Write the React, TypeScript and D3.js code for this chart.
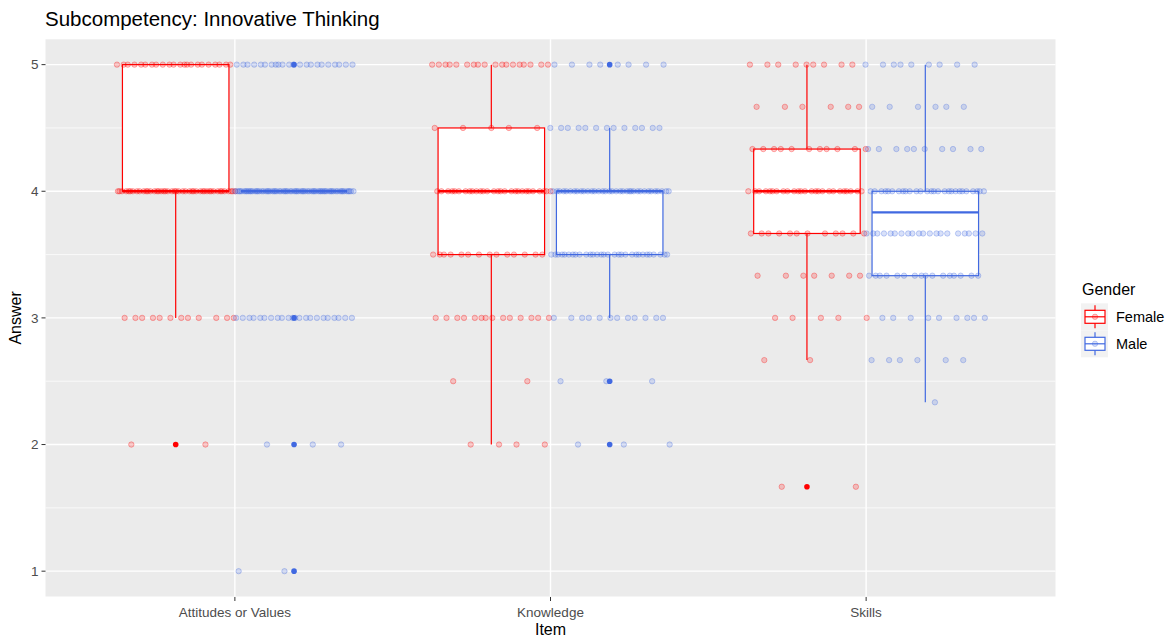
import React from 'react';
import * as d3 from 'd3';

// Items and groups
const items = ['Attitudes or Values', 'Knowledge', 'Skills'];
const genders = ['Female', 'Male'];
const genderColors = ['#FF0000', '#4169E1'];

// Answer levels and how many answers sit on each level
const attitudesLevels = [5, 4, 3, 2, 1];
const attitudesFemale = [22, 45, 12, 2, 0];
const attitudesMale = [22, 70, 22, 3, 2];

const knowledgeLevels = [5, 4.5, 4, 3.5, 3, 2.5, 2];
const knowledgeFemale = [18, 5, 28, 14, 14, 2, 4];
const knowledgeMale = [8, 13, 35, 30, 12, 3, 3];

const skillsLevels = [5, 14 / 3, 13 / 3, 4, 11 / 3, 10 / 3, 3, 8 / 3, 7 / 3, 5 / 3];
const skillsFemale = [9, 6, 11, 25, 12, 7, 5, 2, 0, 2];
const skillsMale = [9, 6, 10, 27, 20, 16, 9, 6, 1, 0];

const yTicks = [1, 2, 3, 4, 5];
const yMinor = [1.5, 2.5, 3.5, 4.5];

const W = 1169;
const H = 639;
const panel = { left: 45.5, right: 1055.5, top: 39.3, bottom: 596.5 };

const expand = (levels: number[], counts: number[]) => {
  const out: number[] = [];
  levels.forEach((v, i) => {
    for (let k = 0; k < counts[i]; k++) out.push(v);
  });
  return out.sort((a, b) => a - b);
};

const groups = [
  { item: items[0], g: 0, values: expand(attitudesLevels, attitudesFemale) },
  { item: items[0], g: 1, values: expand(attitudesLevels, attitudesMale) },
  { item: items[1], g: 0, values: expand(knowledgeLevels, knowledgeFemale) },
  { item: items[1], g: 1, values: expand(knowledgeLevels, knowledgeMale) },
  { item: items[2], g: 0, values: expand(skillsLevels, skillsFemale) },
  { item: items[2], g: 1, values: expand(skillsLevels, skillsMale) },
];

// ggplot-style box stats (type 7 quantiles, 1.5 IQR whiskers)
const boxStats = (vals: number[]) => {
  const q1 = d3.quantile(vals, 0.25)!;
  const med = d3.quantile(vals, 0.5)!;
  const q3 = d3.quantile(vals, 0.75)!;
  const iqr = q3 - q1;
  const eps = 1e-9;
  const lo = q1 - 1.5 * iqr - eps;
  const hi = q3 + 1.5 * iqr + eps;
  const inside = vals.filter((v) => v >= lo && v <= hi);
  const outliers = Array.from(new Set(vals.filter((v) => v < lo || v > hi)));
  return { q1, med, q3, wLo: d3.min(inside)!, wHi: d3.max(inside)!, outliers };
};

const App: React.FC = () => {
  const x = d3.scalePoint<string>().domain(items).range([panel.left, panel.right]).padding(0.6);
  const step = x.step();
  const y = d3.scaleLinear().domain([0.8, 5.2]).range([panel.bottom, panel.top]);

  const dodge = [-0.1875 * step, 0.1875 * step];
  const boxHalf = 0.16875 * step;
  const jitterHalf = 0.19 * step;

  const font = '"Liberation Sans", Arial, sans-serif';

  return (
    <svg width={W} height={H} style={{ position: 'absolute', left: 0, top: 0, background: '#fff' }} fontFamily={font}>
      <text x={45} y={26} fontSize={20.5} fill="#000">Subcompetency: Innovative Thinking</text>

      {/* panel */}
      <rect x={panel.left} y={panel.top} width={panel.right - panel.left} height={panel.bottom - panel.top} fill="#EBEBEB" />
      {yMinor.map((t) => (
        <line key={'mn' + t} x1={panel.left} x2={panel.right} y1={y(t)} y2={y(t)} stroke="#fff" strokeWidth={0.7} />
      ))}
      {yTicks.map((t) => (
        <line key={'mj' + t} x1={panel.left} x2={panel.right} y1={y(t)} y2={y(t)} stroke="#fff" strokeWidth={1.4} />
      ))}
      {items.map((it) => (
        <line key={'vx' + it} x1={x(it)!} x2={x(it)!} y1={panel.top} y2={panel.bottom} stroke="#fff" strokeWidth={1.4} />
      ))}

      {/* boxplots */}
      {groups.map((grp, i) => {
        const s = boxStats(grp.values);
        const cx = x(grp.item)! + dodge[grp.g];
        const col = genderColors[grp.g];
        return (
          <g key={'box' + i}>
            <line x1={cx} x2={cx} y1={y(s.q3)} y2={y(s.wHi)} stroke={col} strokeWidth={1.2} />
            <line x1={cx} x2={cx} y1={y(s.q1)} y2={y(s.wLo)} stroke={col} strokeWidth={1.2} />
            <rect x={cx - boxHalf} y={y(s.q3)} width={boxHalf * 2} height={Math.max(0, y(s.q1) - y(s.q3))}
              fill="#fff" stroke={col} strokeWidth={1.2} />
            <line x1={cx - boxHalf} x2={cx + boxHalf} y1={y(s.med)} y2={y(s.med)} stroke={col} strokeWidth={2.4} />
            {s.outliers.map((o) => (
              <circle key={o} cx={cx} cy={y(o)} r={2.8} fill={col} />
            ))}
          </g>
        );
      })}

      {/* jittered answers */}
      {groups.map((grp, i) => {
        const cx = x(grp.item)! + dodge[grp.g];
        const col = genderColors[grp.g];
        const seed = 0.13 + i * 0.29;
        return (
          <g key={'pts' + i}>
            {grp.values.map((v, k) => {
              const f = ((k * 0.6180339887 + seed) % 1) * 2 - 1;
              return (
                <circle key={k} cx={cx + f * jitterHalf} cy={y(v)} r={2.7}
                  fill={col} fillOpacity={0.2} stroke={col} strokeOpacity={0.3} strokeWidth={1} />
              );
            })}
          </g>
        );
      })}

      {/* y axis */}
      {yTicks.map((t) => (
        <g key={'yt' + t}>
          <line x1={panel.left - 4} x2={panel.left} y1={y(t)} y2={y(t)} stroke="#333" strokeWidth={1} />
          <text x={panel.left - 7} y={y(t)} dy="0.35em" textAnchor="end" fontSize={13.5} fill="#4D4D4D">{t}</text>
        </g>
      ))}
      <text transform={`translate(21,${(panel.top + panel.bottom) / 2}) rotate(-90)`} textAnchor="middle" fontSize={16} fill="#000">Answer</text>

      {/* x axis */}
      {items.map((it) => (
        <g key={'xt' + it}>
          <line x1={x(it)!} x2={x(it)!} y1={panel.bottom + 0.5} y2={panel.bottom + 4.5} stroke="#333" strokeWidth={1} />
          <text x={x(it)!} y={panel.bottom + 20} textAnchor="middle" fontSize={13.5} fill="#4D4D4D">{it}</text>
        </g>
      ))}
      <text x={(panel.left + panel.right) / 2} y={635} textAnchor="middle" fontSize={16} fill="#000">Item</text>

      {/* legend */}
      <text x={1082} y={295} fontSize={16} fill="#000">Gender</text>
      {genders.map((gname, i) => {
        const ky = 303.3 + i * 27;
        const cx = 1095;
        const col = genderColors[i];
        return (
          <g key={'lg' + gname}>
            <rect x={1081} y={ky} width={27} height={27} fill="#F2F2F2" />
            <line x1={cx} x2={cx} y1={ky + 2} y2={ky + 25} stroke={col} strokeWidth={1.2} />
            <rect x={1085} y={ky + 7} width={20} height={13} fill="#fff" stroke={col} strokeWidth={1.2} />
            <line x1={1085} x2={1105} y1={ky + 13.5} y2={ky + 13.5} stroke={col} strokeWidth={1.2} />
            <circle cx={cx} cy={ky + 13.5} r={2.7} fill={col} fillOpacity={0.2} stroke={col} strokeOpacity={0.3} />
            <text x={1116} y={ky + 13.5} dy="0.35em" fontSize={14.5} fill="#000">{gname}</text>
          </g>
        );
      })}
    </svg>
  );
};

export default App;
